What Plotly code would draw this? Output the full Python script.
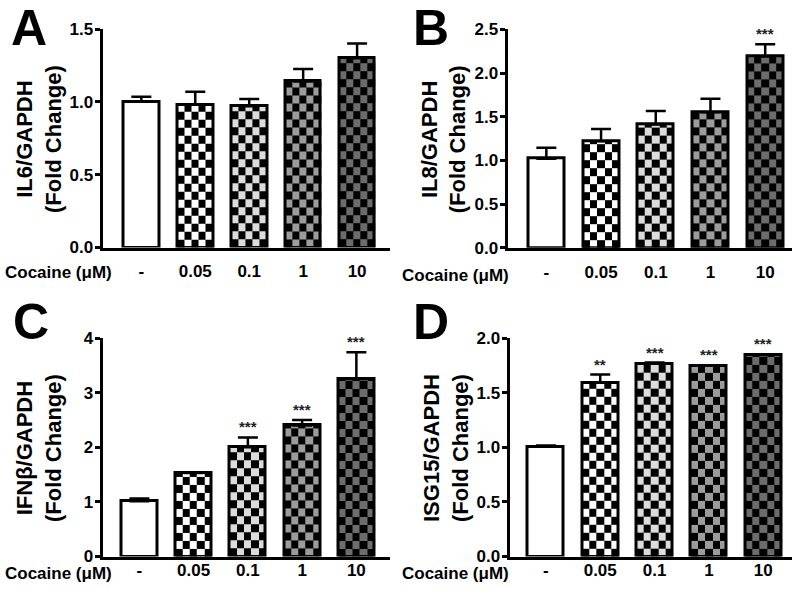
import plotly.graph_objects as go

# ---------------- data ----------------
doses = ["-", "0.05", "0.1", "1", "10"]

il6_mean = [1.00, 0.98, 0.97, 1.14, 1.30]
il6_err = [0.035, 0.09, 0.05, 0.085, 0.10]
il6_sig = ["", "", "", "", ""]

il8_mean = [1.02, 1.22, 1.41, 1.55, 2.19]
il8_err = [0.125, 0.14, 0.155, 0.155, 0.14]
il8_sig = ["", "", "", "", "***"]

ifnb_mean = [1.01, 1.53, 2.00, 2.40, 3.25]
ifnb_err = [0.05, 0.01, 0.18, 0.10, 0.49]
ifnb_sig = ["", "", "***", "***", "***"]

isg15_mean = [1.005, 1.59, 1.765, 1.745, 1.845]
isg15_err = [0.01, 0.075, 0.01, 0.005, 0.005]
isg15_sig = ["", "**", "***", "***", "***"]

y_titles = ["IL6/GAPDH", "IL8/GAPDH", "IFNβ/GAPDH", "ISG15/GAPDH"]
letters = ["A", "B", "C", "D"]
x_label = "Cocaine (μM)"

# ---------------- style ----------------
W, H = 800, 590
FONT = "Liberation Sans, Arial, sans-serif"
check_colors = [None, "#ffffff", "#dcdcdc", "#9c9c9c", "#6c6c6c"]
BAR_W = 0.66
N_COLS = 5
CELL_PX = 8
LW = 3  # axis line width (drawn outside the plot area)


def px_x(v):
    return v / W


def px_y(v):
    return 1 - v / H


panels = [
    dict(mean=il6_mean, err=il6_err, sig=il6_sig, x0=101, x1=390, ytop=29, ybot=249,
         ymax=1.5, dtick=0.5, fmt=".1f", xr=[-0.72, 4.61], lx=9, ly=28, labx=3, laby=273,
         stand=6),
    dict(mean=il8_mean, err=il8_err, sig=il8_sig, x0=506, x1=792, ytop=29.3, ybot=249.3,
         ymax=2.5, dtick=0.5, fmt=".1f", xr=[-0.71, 4.49], lx=411, ly=28, labx=400, laby=275,
         stand=7),
    dict(mean=ifnb_mean, err=ifnb_err, sig=ifnb_sig, x0=101, x1=390, ytop=338, ybot=558,
         ymax=4, dtick=1, fmt="d", xr=[-0.68, 4.62], lx=11, ly=322, labx=3, laby=573,
         stand=-4),
    dict(mean=isg15_mean, err=isg15_err, sig=isg15_sig, x0=508, x1=792, ytop=338, ybot=558,
         ymax=2.0, dtick=0.5, fmt=".1f", xr=[-0.67, 4.53], lx=411, ly=322, labx=400, laby=573,
         stand=-4),
]

fig = go.Figure()
annotations = []
layout_axes = {}

for k, p in enumerate(panels):
    sfx = "" if k == 0 else str(k + 1)
    xa, ya = "x" + sfx, "y" + sfx
    x0 = p["x0"] + LW / 2
    ybot = p["ybot"] - LW / 2
    cell_h = CELL_PX * p["ymax"] / (ybot - p["ytop"])

    # checkerboard fills (heatmaps inside each patterned bar)
    for i in range(1, len(doses)):
        val = p["mean"][i]
        xe = [i - BAR_W / 2 + c * BAR_W / N_COLS for c in range(N_COLS + 1)]
        ye = [0.0]
        while ye[-1] + cell_h < val:
            ye.append(ye[-1] + cell_h)
        ye.append(val)
        z = [[(r + c) % 2 for c in range(N_COLS)] for r in range(len(ye) - 1)]
        col = check_colors[i]
        fig.add_trace(go.Heatmap(
            x=xe, y=ye, z=z, xaxis=xa, yaxis=ya, zmin=0, zmax=1,
            colorscale=[[0, "black"], [0.5, "black"], [0.5, col], [1, col]],
            showscale=False, hoverinfo="skip"))

    # bar outlines + error bars
    fig.add_trace(go.Bar(
        x=list(range(len(doses))), y=p["mean"], width=BAR_W, xaxis=xa, yaxis=ya,
        marker=dict(color=["white"] + ["rgba(0,0,0,0)"] * 4,
                    line=dict(color="black", width=3)),
        error_y=dict(type="data", symmetric=False, array=p["err"],
                     arrayminus=[0] * len(doses), thickness=2.5, width=10, color="black"),
        showlegend=False, hoverinfo="skip"))

    # significance stars
    for i, s in enumerate(p["sig"]):
        if s:
            annotations.append(dict(
                x=i, y=p["mean"][i] + p["err"][i], xref=xa, yref=ya, text=s,
                showarrow=False, yanchor="bottom", yshift=0,
                font=dict(family=FONT, size=15, color="#222222", weight="bold")))

    # axes
    layout_axes["xaxis" + sfx] = dict(
        domain=[px_x(x0), px_x(p["x1"])], range=p["xr"], anchor=ya, automargin=False,
        tickmode="array", tickvals=list(range(len(doses))), ticktext=doses,
        showline=True, linewidth=LW, linecolor="black", showgrid=False, zeroline=False,
        ticks="", ticklabelstandoff=p["stand"],
        tickfont=dict(family=FONT, size=17, color="black", weight="bold"))
    layout_axes["yaxis" + sfx] = dict(
        domain=[px_y(ybot), px_y(p["ytop"])], range=[0, p["ymax"]], anchor=xa,
        automargin=False, dtick=p["dtick"], tick0=0, tickformat=p["fmt"],
        showline=True, linewidth=LW, linecolor="black", showgrid=False, zeroline=False,
        ticks="outside", ticklen=5, tickwidth=3, tickcolor="black", ticklabelstandoff=-2,
        tickfont=dict(family=FONT, size=17, color="black", weight="bold"))

    # y title
    annotations.append(dict(
        x=px_x(p["x0"] - 62), y=px_y((p["ytop"] + p["ybot"]) / 2), xref="paper", yref="paper",
        text=y_titles[k] + "<br>(Fold Change)", textangle=-90, showarrow=False,
        xanchor="center", yanchor="middle",
        font=dict(family=FONT, size=22, color="black", weight="bold")))
    # panel letter
    annotations.append(dict(
        x=px_x(p["lx"]), y=px_y(p["ly"]), xref="paper", yref="paper", text=letters[k],
        showarrow=False, xanchor="left", yanchor="middle",
        font=dict(family=FONT, size=50, color="black", weight="bold")))
    # x label
    annotations.append(dict(
        x=px_x(p["labx"]), y=px_y(p["laby"]), xref="paper", yref="paper", text=x_label,
        showarrow=False, xanchor="left", yanchor="middle",
        font=dict(family=FONT, size=17, color="black", weight="bold")))

fig.update_layout(
    width=W, height=H, margin=dict(l=0, r=0, t=0, b=0, autoexpand=False),
    paper_bgcolor="white", plot_bgcolor="white", showlegend=False,
    bargap=0, annotations=annotations, **layout_axes)

fig.write_html("out.html", config={"displayModeBar": False},
               post_script="document.body.style.margin='0';document.body.style.padding='0';")
